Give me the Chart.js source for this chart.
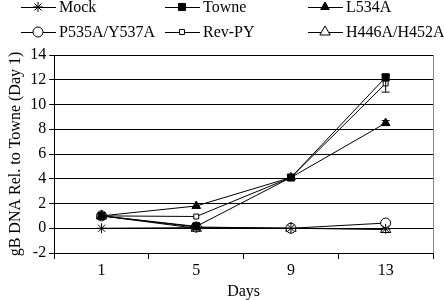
<!DOCTYPE html>
<html>
<head>
<meta charset="utf-8">
<script src="https://cdn.jsdelivr.net/npm/chart.js@4"></script>
<style>
  html, body { margin: 0; padding: 0; background: #fff; }
  #wrap { width: 444px; height: 300px; }
</style>
</head>
<body>
<div id="wrap"><canvas id="chart"></canvas></div>
<script>
const DAYS = ['1', '5', '9', '13'];
const Y_TICKS = [-2, 0, 2, 4, 6, 8, 10, 12, 14];

const mock = [0, 0.05, 0, -0.05];
const towne = [1.0, 0.15, 4.1, 12.2];
const l534a = [1.0, 1.8, 4.1, 8.5];
const p535a = [1.0, 0.1, 0.0, 0.42];
const revPy = [1.0, 0.95, 4.1, 11.7];
const h446a = [1.0, 0.0, 0.0, -0.1];

// error bar half-widths, per series
const towneErr = [0, 0, 0, 0.2];
const l534aErr = [0, 0, 0, 0.2];
const revPyErr = [0, 0, 0, 0.7];

const FONT = '"Liberation Serif", "Times New Roman", serif';

const series = [
  { label: 'Mock', data: mock, style: 'star', fill: '#000', r: 5 },
  { label: 'Towne', data: towne, style: 'rect', fill: '#000', r: 5, err: towneErr },
  { label: 'L534A', data: l534a, style: 'triangle', fill: '#000', r: 5, err: l534aErr },
  { label: 'P535A/Y537A', data: p535a, style: 'circle', fill: '#fff', r: 5 },
  { label: 'Rev-PY', data: revPy, style: 'rect', fill: '#fff', r: 3.5, err: revPyErr },
  { label: 'H446A/H452A', data: h446a, style: 'triangle', fill: '#fff', r: 6 },
];

const errorBars = {
  id: 'errorBars',
  afterDatasetsDraw(chart) {
    const { ctx, scales: { x, y } } = chart;
    ctx.save();
    ctx.strokeStyle = '#000';
    ctx.lineWidth = 1;
    series.forEach((s) => {
      if (!s.err) return;
      s.err.forEach((e, i) => {
        if (!e) return;
        const px = x.getPixelForValue(i);
        const top = y.getPixelForValue(s.data[i] + e);
        const bot = y.getPixelForValue(s.data[i] - e);
        ctx.beginPath();
        ctx.moveTo(px, top); ctx.lineTo(px, bot);
        ctx.moveTo(px - 4, top); ctx.lineTo(px + 4, top);
        ctx.moveTo(px - 4, bot); ctx.lineTo(px + 4, bot);
        ctx.stroke();
      });
    });
    ctx.restore();
  },
};

const frame = {
  id: 'frame',
  beforeDatasetsDraw(chart) {
    const { ctx, chartArea: a } = chart;
    ctx.save();
    ctx.strokeStyle = '#888';
    ctx.lineWidth = 1;
    ctx.beginPath();
    ctx.moveTo(Math.round(a.right) + 0.5, a.top);
    ctx.lineTo(Math.round(a.right) + 0.5, a.bottom);
    ctx.stroke();
    ctx.restore();
  },
};

const topLegend = {
  id: 'topLegend',
  afterDraw(chart) {
    const { ctx } = chart;
    const cols = [21, 165, 308];
    const rows = [7, 32];
    ctx.save();
    ctx.font = '16px ' + FONT;
    ctx.textBaseline = 'middle';
    series.forEach((s, i) => {
      const x0 = cols[i % 3];
      const yy = rows[Math.floor(i / 3)];
      ctx.strokeStyle = '#000';
      ctx.lineWidth = 1;
      ctx.beginPath();
      ctx.moveTo(x0, yy + 0.5); ctx.lineTo(x0 + 35, yy + 0.5);
      ctx.stroke();
      ctx.fillStyle = s.fill;
      Chart.helpers.drawPoint(ctx, { pointStyle: s.style, radius: s.r, rotation: 0, borderWidth: 1 }, x0 + 17, yy);
      ctx.fillStyle = '#000';
      ctx.fillText(s.label, x0 + 38, yy + 1);
    });
    ctx.restore();
  },
};

new Chart(document.getElementById('chart'), {
  type: 'line',
  data: {
    labels: DAYS,
    datasets: series.map((s) => ({
      label: s.label,
      data: s.data,
      borderColor: '#000',
      borderWidth: 1,
      pointStyle: s.style,
      pointRadius: s.r,
      pointBackgroundColor: s.fill,
      pointBorderColor: '#000',
      pointBorderWidth: 1,
      tension: 0,
    })),
  },
  options: {
    responsive: true,
    maintainAspectRatio: false,
    animation: false,
    layout: { padding: { top: 55, right: 11, left: 4, bottom: 0 } },
    plugins: {
      legend: { display: false },
      tooltip: { enabled: false },
    },
    scales: {
      x: {
        offset: true,
        grid: { offset: true, drawOnChartArea: false, drawTicks: true, tickLength: 6, color: '#000' },
        border: { color: '#000' },
        ticks: { color: '#000', font: { family: FONT, size: 16, lineHeight: 1 }, padding: 4 },
        title: { display: true, text: 'Days', color: '#000', font: { family: FONT, size: 16, lineHeight: 1 }, padding: { top: 1, bottom: 0 } },
      },
      y: {
        min: -2,
        max: 14,
        afterBuildTicks: (axis) => { axis.ticks = Y_TICKS.map((v) => ({ value: v })); },
        grid: { color: '#000', tickLength: 5 },
        border: { color: '#000' },
        ticks: { color: '#000', font: { family: FONT, size: 16 }, padding: 3 },
        title: { display: true, text: 'gB DNA Rel. to Towne (Day 1)', color: '#000', font: { family: FONT, size: 16 }, padding: 2 },
      },
    },
  },
  plugins: [frame, errorBars, topLegend],
});
</script>
</body>
</html>
